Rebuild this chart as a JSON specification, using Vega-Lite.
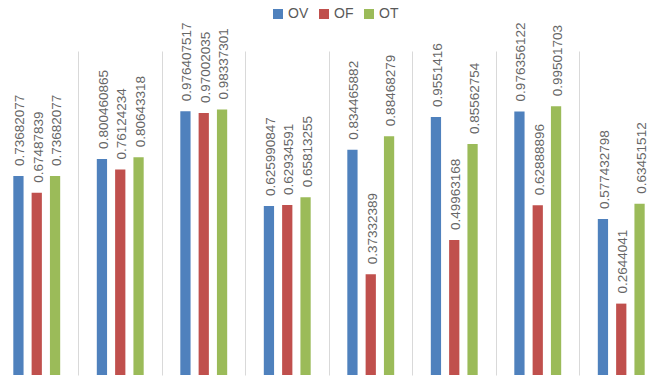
{
  "$schema": "https://vega.github.io/schema/vega-lite/v6.json",
  "autosize": {"type": "none"},
  "padding": {"left": -5, "top": 51, "right": -4, "bottom": 4},
  "width": 668,
  "height": 324,
  "background": "white",
  "config": {"view": {"stroke": null}, "font": "Liberation Sans"},
  "data": {"values": [
    {"g": "1", "s": "OV", "v": 0.73682077},
    {"g": "1", "s": "OF", "v": 0.67487839},
    {"g": "1", "s": "OT", "v": 0.73682077},
    {"g": "2", "s": "OV", "v": 0.800460865},
    {"g": "2", "s": "OF", "v": 0.76124234},
    {"g": "2", "s": "OT", "v": 0.80643318},
    {"g": "3", "s": "OV", "v": 0.976407517},
    {"g": "3", "s": "OF", "v": 0.97002035},
    {"g": "3", "s": "OT", "v": 0.98337301},
    {"g": "4", "s": "OV", "v": 0.625990847},
    {"g": "4", "s": "OF", "v": 0.62934591},
    {"g": "4", "s": "OT", "v": 0.65813255},
    {"g": "5", "s": "OV", "v": 0.834465882},
    {"g": "5", "s": "OF", "v": 0.37332389},
    {"g": "5", "s": "OT", "v": 0.88468279},
    {"g": "6", "s": "OV", "v": 0.9551416},
    {"g": "6", "s": "OF", "v": 0.49963168},
    {"g": "6", "s": "OT", "v": 0.85562754},
    {"g": "7", "s": "OV", "v": 0.976356122},
    {"g": "7", "s": "OF", "v": 0.62888896},
    {"g": "7", "s": "OT", "v": 0.99501703},
    {"g": "8", "s": "OV", "v": 0.577432798},
    {"g": "8", "s": "OF", "v": 0.2644041},
    {"g": "8", "s": "OT", "v": 0.63451512}
  ]},
  "encoding": {
    "x": {"field": "g", "type": "nominal", "sort": null,
      "scale": {"paddingInner": 0, "paddingOuter": 0},
      "axis": {"title": null, "labels": false, "ticks": false, "domain": false,
        "grid": true, "bandPosition": 0, "gridColor": "#D9D9D9", "gridWidth": 1}},
    "xOffset": {"field": "s", "type": "nominal", "sort": ["OV", "OF", "OT"],
      "scale": {"paddingInner": 0.44, "paddingOuter": 1.18}},
    "y": {"field": "v", "type": "quantitative", "scale": {"domain": [0, 1.2], "nice": false}, "axis": null}
  },
  "layer": [
    {
      "mark": {"type": "bar"},
      "encoding": {
        "color": {"field": "s", "type": "nominal", "sort": ["OV", "OF", "OT"],
          "scale": {"domain": ["OV", "OF", "OT"], "range": ["#4F81BD", "#C0504D", "#9BBB59"]},
          "legend": {"title": null, "orient": "none", "direction": "horizontal",
            "legendX": 276, "legendY": -44, "symbolType": "square", "symbolSize": 100,
            "symbolStrokeWidth": 0, "labelFontSize": 14, "labelColor": "#595959",
            "labelOffset": 3, "columnPadding": 8, "symbolOpacity": 1}}
      }
    },
    {
      "mark": {"type": "text", "angle": 270, "align": "left", "baseline": "middle",
        "dx": 10, "dy": 2, "fontSize": 13.5, "color": "#666666"},
      "encoding": {"text": {"field": "v", "type": "nominal"}}
    }
  ]
}
